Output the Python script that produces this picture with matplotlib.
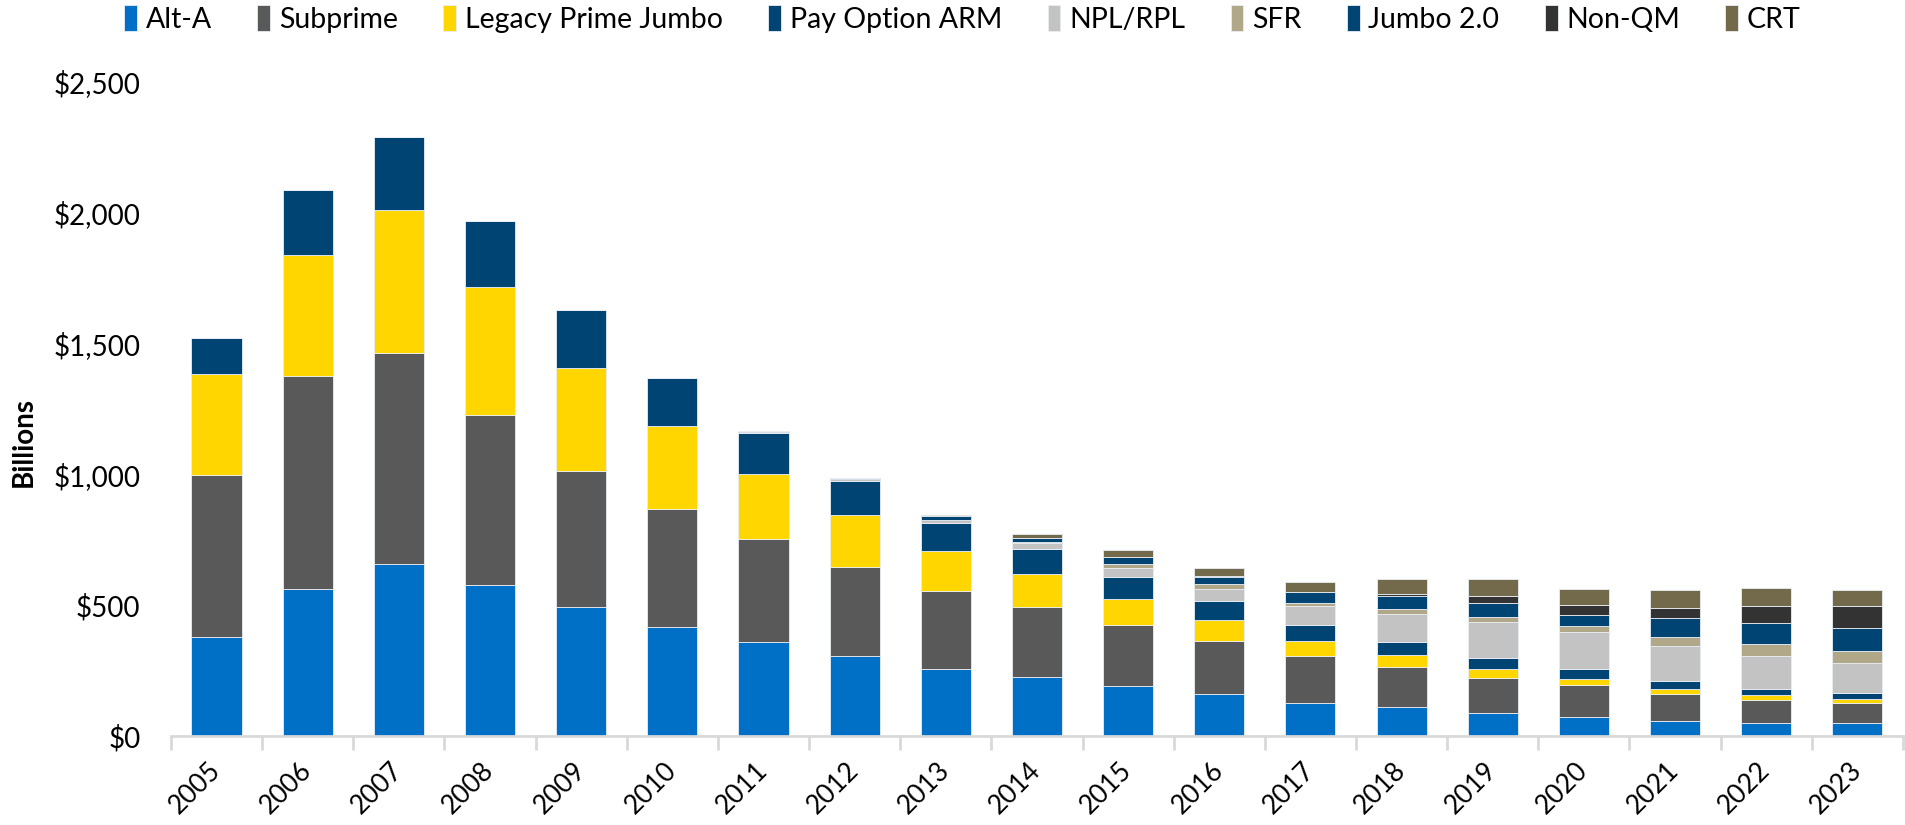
import numpy as np
import matplotlib.pyplot as plt
from matplotlib.ticker import FuncFormatter, FixedLocator

plt.rcParams['font.family'] = ['Lato', 'DejaVu Sans']

# datos (miles de millones USD)
anios = [str(a) for a in range(2005, 2024)]
alt_a = [378, 560, 656, 579, 492, 417, 358, 305, 256, 227, 191, 159, 127, 110, 87, 74, 59, 51, 48]
subprime = [619, 815, 809, 648, 520, 450, 395, 341, 298, 267, 234, 205, 179, 152, 136, 120, 103, 88, 79]
legacy_jumbo = [388, 465, 544, 489, 395, 317, 249, 199, 152, 126, 99, 79, 58, 48, 32, 24, 19, 16, 16]
pay_option = [136, 247, 279, 253, 222, 186, 156, 131, 107, 96, 82, 74, 61, 50, 44, 38, 29, 26, 23]
npl_rpl = [0, 0, 0, 0, 0, 0, 3, 5, 12, 23, 37, 46, 73, 106, 138, 140, 135, 125, 112]
sfr = [0, 0, 0, 0, 0, 0, 0, 0, 1, 1, 14, 17, 12, 18, 17, 24, 35, 47, 47]
jumbo_2 = [0, 0, 0, 0, 0, 0, 4, 5, 15, 18, 28, 29, 39, 50, 56, 44, 70, 80, 86]
non_qm = [0, 0, 0, 0, 0, 0, 0, 0, 0, 0, 1, 1, 3, 10, 26, 38, 40, 65, 85]
crt = [0, 0, 0, 0, 0, 0, 0, 0, 3, 14, 24, 32, 38, 55, 64, 59, 67, 69, 61]

series = [
    ("Alt-A", alt_a, "#0070C6"),
    ("Subprime", subprime, "#595959"),
    ("Legacy Prime Jumbo", legacy_jumbo, "#FFD600"),
    ("Pay Option ARM", pay_option, "#004473"),
    ("NPL/RPL", npl_rpl, "#C3C3C3"),
    ("SFR", sfr, "#B1A88A"),
    ("Jumbo 2.0", jumbo_2, "#004473"),
    ("Non-QM", non_qm, "#333333"),
    ("CRT", crt, "#73694B"),
]

fig = plt.figure(figsize=(19.06, 8.25), dpi=100)
ax = fig.add_axes([0.0897, 0.1079, 0.9087, 0.7927])

x = np.arange(len(anios))
base = np.zeros(len(anios))
for nombre, vals, color in series:
    vals = np.array(vals, dtype=float)
    ax.bar(x, vals, width=0.55, bottom=base, color=color, label=nombre,
           edgecolor="#E8EEF4", linewidth=0.6)
    base += vals

ax.set_xlim(-0.5, len(anios) - 0.5)
ax.set_ylim(0, 2500)
ax.set_yticks(np.arange(0, 2501, 500))
ax.yaxis.set_major_formatter(FuncFormatter(lambda v, p: f"${v:,.0f}"))
ax.tick_params(axis="y", length=0, pad=22, labelsize=20)

ax.set_xticks(x)
ax.set_xticklabels(anios, rotation=45, ha="right", va="center", rotation_mode="anchor")
ax.tick_params(axis="x", which="major", length=0, pad=22, labelsize=19)
ax.xaxis.set_minor_locator(FixedLocator(np.arange(-0.5, len(anios), 1.0)))
ax.tick_params(axis="x", which="minor", length=10, width=2, color="#D9D9D9")

for lado in ["top", "right", "left"]:
    ax.spines[lado].set_visible(False)
ax.spines["bottom"].set_color("#D9D9D9")
ax.spines["bottom"].set_linewidth(2)

fig.text(0.0126, 0.464, "Billions", fontsize=20, fontweight="bold",
         rotation=90, ha="center", va="center")

fig.legend(loc="center", bbox_to_anchor=(0.505, 0.977), ncol=9, frameon=False,
           fontsize=20.5, handlelength=0.45, handleheight=1.0, handletextpad=0.3,
           columnspacing=1.6, borderaxespad=0)

fig.savefig("out.png", dpi=100)
